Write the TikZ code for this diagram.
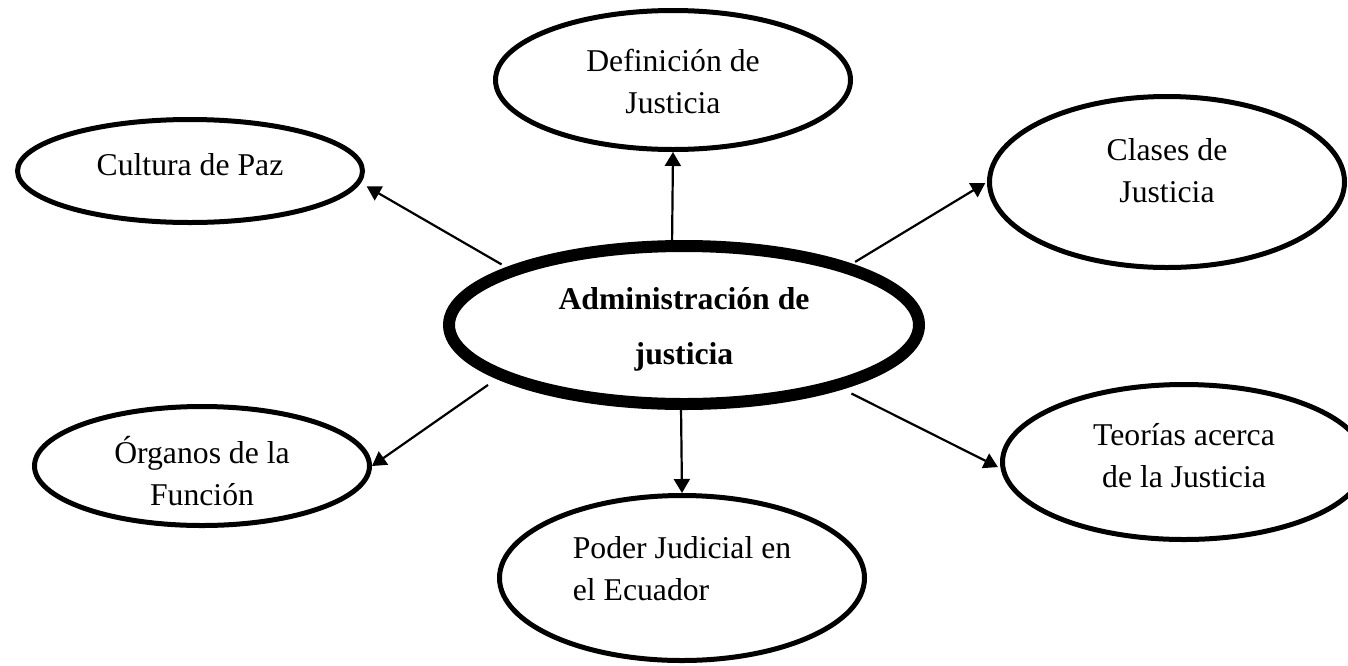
\documentclass[tikz,border=0pt]{standalone}
\usepackage{fontspec}
\setmainfont{Liberation Serif}
\usetikzlibrary{arrows.meta, shapes.geometric}

\begin{document}
\begin{tikzpicture}[x=1pt, y=-1pt,
    ovalnode/.style={ellipse, draw=black, line width=5pt, inner sep=0pt},
    ovaltext/.style={align=center, inner sep=0pt, font=\fontsize{31.7}{42}\selectfont},
    mainnode/.style={ellipse, draw=black, line width=12pt, inner sep=0pt},
    maintext/.style={align=center, inner sep=0pt, font=\fontsize{31.7}{55}\selectfont\bfseries},
    arrowline/.style={-{Triangle[length=14pt, width=16pt]}, line width=2.2pt}
]
\useasboundingbox (0,0) rectangle (1348,665);
\node[mainnode, minimum width=470pt, minimum height=158pt, label={[maintext, yshift=-4pt]center:{Administración de\\justicia}}](adm) at (684,325){};
\node[ovalnode, minimum width=355pt, minimum height=139pt, label={[ovaltext, yshift=-1.5pt]center:{Definición de\\Justicia}}](def) at (673,80){};
\node[ovalnode, minimum width=345pt, minimum height=103pt, label={[ovaltext, yshift=6pt]center:{Cultura de Paz}}](cul) at (190,171){};
\node[ovalnode, minimum width=355pt, minimum height=171pt, label={[ovaltext, yshift=11pt]center:{Clases de\\Justicia}}](cla) at (1167,182){};
\node[ovalnode, minimum width=335pt, minimum height=119pt, label={[ovaltext, yshift=-5pt]center:{Órganos de la\\Función}}](org) at (202,466){};
\node[ovalnode, minimum width=363pt, minimum height=155pt, label={[ovaltext, yshift=6pt]center:{Teorías acerca\\de la Justicia}}](teo) at (1184,462){};
\node[ovalnode, minimum width=365pt, minimum height=165pt, label={[ovaltext, align=left, yshift=9pt]center:{Poder Judicial en\\el Ecuador}}](pod) at (682,578){};

% flechas desde el centro
\draw[arrowline] (adm.98) -- (def.south);
\draw[arrowline, shorten <=6pt, shorten >=7pt] (adm.162) -- (cul.-4);
\draw[arrowline, shorten <=4pt, shorten >=2pt] (adm.20) -- (cla.west);
\draw[arrowline, shorten <=11pt] (adm.196) -- (org.east);
\draw[arrowline] (adm.-92) -- (pod.north);
\draw[arrowline, shorten <=10pt, shorten >=3pt] (adm.-22) -- (teo.182);
\end{tikzpicture}
\end{document}
